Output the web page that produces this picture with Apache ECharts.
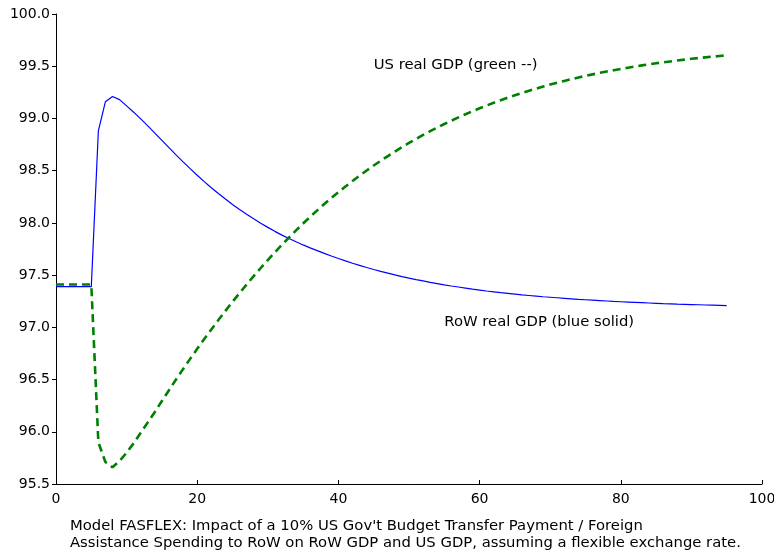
<!DOCTYPE html>
<html>
<head>
<meta charset="utf-8">
<script src="https://cdn.jsdelivr.net/npm/echarts@6/dist/echarts.min.js"></script>
<style>
  html, body { margin: 0; padding: 0; background: #fff; }
  #chart { width: 774px; height: 555px; }
</style>
</head>
<body>
<div id="chart"></div>
<script>
// periods 0..95
var periods = [];
for (var i = 0; i <= 95; i++) periods.push(i);

// RoW real GDP (blue solid)
var rowGdp = [
  97.390, 97.390, 97.390, 97.390, 97.390, 97.390, 98.880, 99.160, 99.210, 99.180,
  99.120, 99.060, 98.996, 98.929, 98.860, 98.790, 98.720, 98.651, 98.584, 98.519,
  98.456, 98.395, 98.337, 98.281, 98.228, 98.177, 98.129, 98.083, 98.039, 97.997,
  97.957, 97.919, 97.883, 97.850, 97.819, 97.789, 97.761, 97.734, 97.708, 97.683,
  97.659, 97.636, 97.614, 97.593, 97.573, 97.554, 97.536, 97.519, 97.502, 97.486,
  97.471, 97.457, 97.444, 97.431, 97.419, 97.407, 97.396, 97.386, 97.376, 97.366,
  97.357, 97.348, 97.340, 97.332, 97.325, 97.318, 97.311, 97.305, 97.299, 97.293,
  97.288, 97.283, 97.278, 97.273, 97.268, 97.264, 97.260, 97.256, 97.252, 97.248,
  97.245, 97.242, 97.239, 97.236, 97.233, 97.230, 97.227, 97.225, 97.222, 97.220,
  97.218, 97.216, 97.214, 97.212, 97.210, 97.208
];

// US real GDP (green dashed)
var usGdp = [
  97.410, 97.410, 97.410, 97.410, 97.410, 97.410, 95.900, 95.710, 95.660, 95.720,
  95.800, 95.890, 95.990, 96.090, 96.190, 96.295, 96.398, 96.500, 96.600, 96.698,
  96.794, 96.888, 96.980, 97.070, 97.158, 97.244, 97.328, 97.410, 97.490, 97.568,
  97.644, 97.718, 97.790, 97.860, 97.928, 97.994, 98.058, 98.120, 98.180, 98.238,
  98.294, 98.348, 98.401, 98.452, 98.501, 98.549, 98.595, 98.640, 98.683, 98.725,
  98.765, 98.804, 98.842, 98.878, 98.913, 98.947, 98.979, 99.010, 99.040, 99.069,
  99.097, 99.124, 99.150, 99.175, 99.199, 99.222, 99.244, 99.265, 99.285, 99.305,
  99.324, 99.342, 99.359, 99.376, 99.392, 99.407, 99.422, 99.436, 99.449, 99.462,
  99.474, 99.486, 99.497, 99.508, 99.518, 99.528, 99.537, 99.546, 99.555, 99.563,
  99.571, 99.578, 99.585, 99.592, 99.598, 99.604
];

var usLabel = 'US real GDP (green --)';
var rowLabel = 'RoW real GDP (blue solid)';
var caption = [
  "Model FASFLEX: Impact of a 10% US Gov't Budget Transfer Payment / Foreign",
  "Assistance Spending to RoW on RoW GDP and US GDP, assuming a flexible exchange rate."
];

var font = 'DejaVu Sans';

function pairs(ys) {
  return periods.map(function (x, k) { return [x, ys[k]]; });
}

var chart = echarts.init(document.getElementById('chart'));

var option = {
  animation: false,
  backgroundColor: '#fff',
  grid: { left: 56, right: 12, top: 14, bottom: 71, containLabel: false, outerBoundsMode: 'none' },
  xAxis: {
    type: 'value', min: 0, max: 100, interval: 20,
    axisLine: { show: true, onZero: false, lineStyle: { color: '#000', width: 1 } },
    axisTick: { show: true, inside: true, length: 4, lineStyle: { color: '#000' } },
    splitLine: { show: false },
    axisLabel: { color: '#000', fontFamily: font, fontSize: 14, margin: 8 }
  },
  yAxis: {
    type: 'value', min: 95.5, max: 100, interval: 0.5,
    axisLine: { show: true, onZero: false, lineStyle: { color: '#000', width: 1 } },
    axisTick: { show: true, inside: false, length: 4, lineStyle: { color: '#000' } },
    splitLine: { show: false },
    axisLabel: {
      color: '#000', fontFamily: font, fontSize: 14, margin: 6,
      formatter: function (v) { return v.toFixed(1); }
    }
  },
  series: [
    {
      name: 'RoW', type: 'line', data: pairs(rowGdp), showSymbol: false,
      lineStyle: { color: '#0000ff', width: 1.2 }, z: 2
    },
    {
      name: 'US', type: 'line', data: pairs(usGdp), showSymbol: false,
      lineStyle: { color: '#008000', width: 2.6, type: [8, 5] }, z: 3
    }
  ]
};
chart.setOption(option);

// text annotations placed at data coordinates
var p1 = chart.convertToPixel({ gridIndex: 0 }, [45, 99.51]);
var p2 = chart.convertToPixel({ gridIndex: 0 }, [55, 97.05]);
chart.setOption({
  graphic: [
    { type: 'text', x: p1[0], y: p1[1], style: { text: usLabel, font: '14.8px ' + font, fill: '#000', textVerticalAlign: 'middle' } },
    { type: 'text', x: p2[0], y: p2[1], style: { text: rowLabel, font: '14.8px ' + font, fill: '#000', textVerticalAlign: 'middle' } },
    { type: 'text', left: 70, top: 518, style: { text: caption.join('\n'), font: '14.8px ' + font, fill: '#000', lineHeight: 17 } }
  ]
});
</script>
</body>
</html>
